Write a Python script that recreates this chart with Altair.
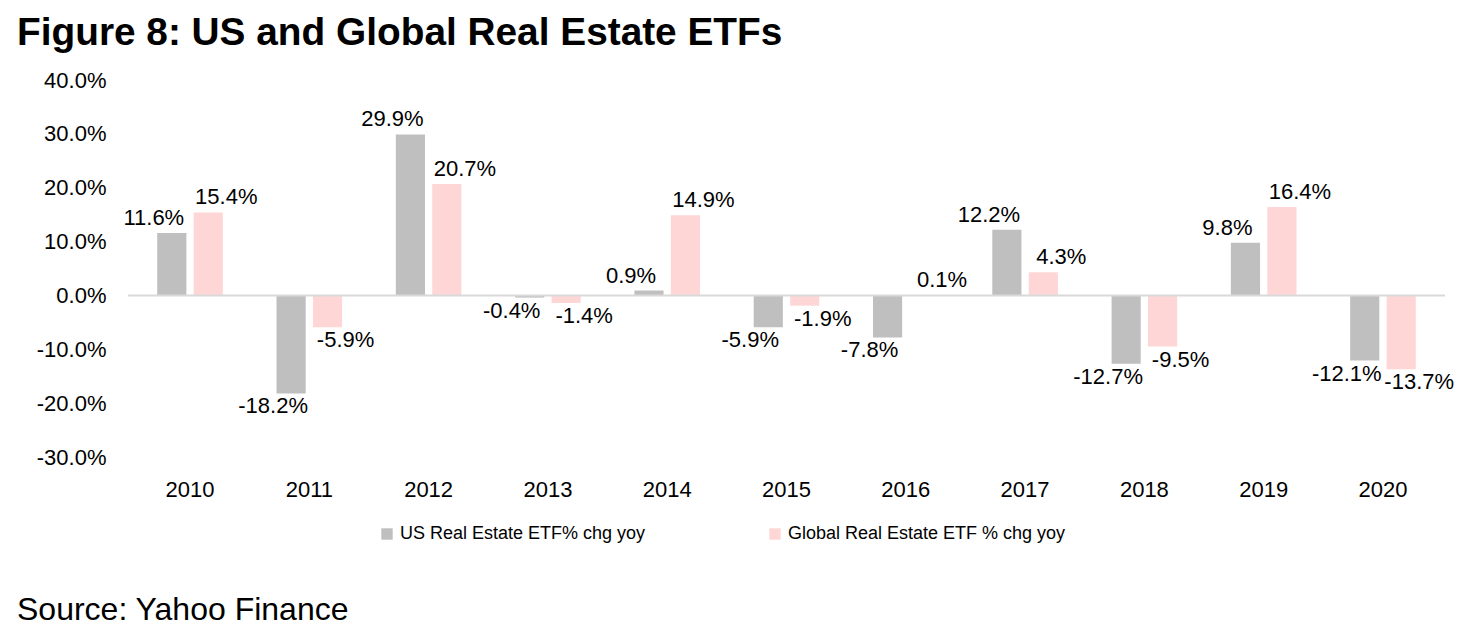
import altair as alt
import pandas as pd

years = ["2010", "2011", "2012", "2013", "2014", "2015", "2016", "2017", "2018", "2019", "2020"]
us_vals = [11.6, -18.2, 29.9, -0.4, 0.9, -5.9, -7.8, 12.2, -12.7, 9.8, -12.1]
global_vals = [15.4, -5.9, 20.7, -1.4, 14.9, -1.9, 0.1, 4.3, -9.5, 16.4, -13.7]
series_names = ["US Real Estate ETF% chg yoy", "Global Real Estate ETF % chg yoy"]
y_ticks = [-0.3, -0.2, -0.1, 0.0, 0.1, 0.2, 0.3, 0.4]
title_text = "Figure 8: US and Global Real Estate ETFs"
source_text = "Source: Yahoo Finance"

rows = []
for y, u, g in zip(years, us_vals, global_vals):
    rows.append({"year": y, "series": series_names[0], "value": u / 100})
    rows.append({"year": y, "series": series_names[1], "value": g / 100})
df = pd.DataFrame(rows)

FONT = "Liberation Sans, Arial, Helvetica, sans-serif"
colors = ["#bfbfbf", "#ffd6d6"]

W, H = 1317, 377

x_enc = alt.X("year:N", sort=years, title=None,
              scale=alt.Scale(paddingInner=0.45, paddingOuter=0.245),
              axis=alt.Axis(labelAngle=0, labelFontSize=22, labelFont=FONT, labelColor="#000000",
                            domain=False, ticks=False, tickSize=0, labelPadding=22))
y_enc = alt.Y("value:Q", title=None,
              scale=alt.Scale(domain=[-0.3, 0.4], nice=False, zero=False),
              axis=alt.Axis(values=y_ticks, format=".1%", labelFontSize=22, labelFont=FONT,
                            labelExpr="replace(datum.label, '\u2212', '-')",
                            labelColor="#000000", domain=False, ticks=False, tickSize=0,
                            grid=False, labelPadding=22))
xoff = alt.XOffset("series:N", sort=series_names, scale=alt.Scale(paddingInner=0.2))

base = alt.Chart(df).transform_calculate(
    lbl="replace(format(datum.value, '.1%'), '\u2212', '-')"
)

bars = base.mark_bar().encode(
    x=x_enc, y=y_enc, xOffset=xoff,
    color=alt.Color("series:N", sort=series_names,
                    scale=alt.Scale(domain=series_names, range=colors),
                    legend=alt.Legend(title=None, orient="none", direction="horizontal",
                                      legendX=250, legendY=445,
                                      symbolType="square", symbolSize=130, symbolStrokeWidth=0,
                                      labelFont=FONT,
                                      labelFontSize=18, labelColor="#000000", labelLimit=500,
                                      columnPadding=120, labelOffset=4)),
)

zero = alt.Chart(pd.DataFrame({"z": [0.0]})).mark_rule(color="#d9d9d9", strokeWidth=2).encode(
    y=alt.Y("z:Q", scale=alt.Scale(domain=[-0.3, 0.4], nice=False, zero=False))
)

def labels(series, positive, dx):
    cond = "datum.value >= 0" if positive else "datum.value < 0"
    return base.transform_filter(alt.datum.series == series).transform_filter(cond).mark_text(
        font=FONT, fontSize=22, color="#000000",
        baseline="bottom" if positive else "top",
        dy=-3 if positive else 3, dx=dx,
    ).encode(x=x_enc, y=y_enc, xOffset=xoff, text="lbl:N")

one = pd.DataFrame({"t": [0]})
title = alt.Chart(one).mark_text(
    text=title_text, font=FONT, fontSize=38.8, fontWeight="bold", color="#000000",
    align="left", baseline="alphabetic"
).encode(x=alt.value(-111), y=alt.value(-35))
source = alt.Chart(one).mark_text(
    text=source_text, font=FONT, fontSize=32, color="#000000",
    align="left", baseline="alphabetic"
).encode(x=alt.value(-111), y=alt.value(540))

chart = alt.layer(
    bars, zero,
    labels(series_names[0], True, -18), labels(series_names[0], False, -18),
    labels(series_names[1], True, 18), labels(series_names[1], False, 18),
    title, source,
).properties(
    width=W, height=H,
    background="#ffffff",
    autosize=alt.AutoSizeParams(type="none"),
    padding={"left": 120, "top": 72, "right": 25, "bottom": 170},
).configure_view(strokeWidth=0, stroke=None)

chart.save("out.html", embed_options={"renderer": "svg", "actions": False})
